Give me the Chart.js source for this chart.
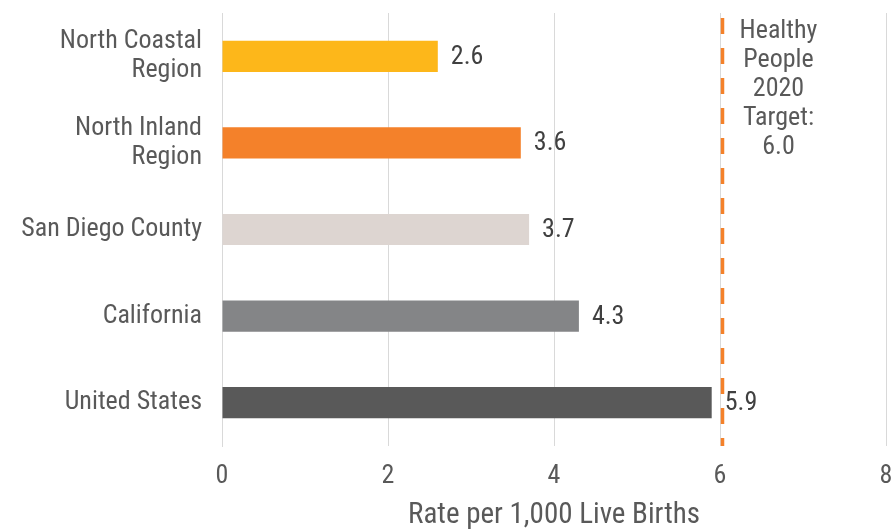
<!DOCTYPE html>
<html>
<head>
<meta charset="utf-8">
<script src="https://cdn.jsdelivr.net/npm/chart.js@4"></script>
<style>
  html, body { margin: 0; padding: 0; background: #fff; }
  #wrap { width: 894px; height: 532px; position: relative; }
</style>
</head>
<body>
<div id="wrap"><canvas id="chart"></canvas></div>
<script>
// data
var regions = [['North Coastal', 'Region'], ['North Inland', 'Region'], 'San Diego County', 'California', 'United States'];
var rates = [2.6, 3.6, 3.7, 4.3, 5.9];
var barColors = ['#FDB71A', '#F4812A', '#DDD5D1', '#848587', '#595959'];
var xTicks = [0, 2, 4, 6, 8];
var target = 6.0;
var targetLines = ['Healthy', 'People', '2020', 'Target:', '6.0'];

var FONT = '"Roboto Condensed", "Liberation Sans", sans-serif';
Chart.defaults.font.family = FONT;
Chart.defaults.color = '#595959';

// value labels next to each bar + the target line and its note
var extras = {
  id: 'extras',
  afterDatasetsDraw: function(chart) {
    var ctx = chart.ctx;
    var meta = chart.getDatasetMeta(0);
    ctx.save();
    ctx.font = '26px ' + FONT;
    ctx.fillStyle = '#404040';
    ctx.textBaseline = 'middle';
    ctx.textAlign = 'left';
    meta.data.forEach(function(bar, i) {
      ctx.fillText(rates[i].toFixed(1), bar.x + 13, bar.y + 1);
    });

    var x = chart.scales.x.getPixelForValue(target) + 2.5;
    var area = chart.chartArea;
    ctx.strokeStyle = '#F4812A';
    ctx.lineWidth = 3.5;
    ctx.setLineDash([16, 14]);
    ctx.beginPath();
    ctx.moveTo(x, area.top + 5);
    ctx.lineTo(x, area.bottom);
    ctx.stroke();

    ctx.fillStyle = '#595959';
    ctx.textAlign = 'center';
    targetLines.forEach(function(t, i) {
      ctx.fillText(t, x + 56, 31 + i * 29);
    });
    ctx.restore();
  }
};

new Chart(document.getElementById('chart'), {
  type: 'bar',
  data: {
    labels: regions,
    datasets: [{
      data: rates,
      backgroundColor: barColors,
      borderWidth: 0,
      barPercentage: 0.36,
      categoryPercentage: 1
    }]
  },
  options: {
    indexAxis: 'y',
    responsive: true,
    maintainAspectRatio: false,
    animation: false,
    layout: { padding: { top: 13, right: 8, left: 0, bottom: 0 } },
    plugins: {
      legend: { display: false },
      tooltip: { enabled: false }
    },
    scales: {
      x: {
        min: 0,
        max: 8,
        afterBuildTicks: function(scale) {
          scale.ticks = xTicks.map(function(v) { return { value: v }; });
        },
        afterFit: function(scale) {
          scale.height = 86;
          scale.paddingLeft = 0;
          scale.paddingRight = 0;
        },
        grid: { color: '#D9D9D9', drawTicks: false, lineWidth: 1 },
        border: { display: false },
        ticks: { padding: 15, font: { size: 26 }, color: '#595959' },
        title: {
          display: true,
          text: 'Rate per 1,000 Live Births',
          font: { size: 29, lineHeight: 1.1 },
          color: '#595959',
          padding: { top: 8, bottom: 0 }
        }
      },
      y: {
        afterFit: function(scale) {
          scale.width = 222;
          scale.paddingTop = 0;
          scale.paddingBottom = 0;
        },
        grid: { display: false, drawTicks: false },
        border: { display: true, color: '#D9D9D9', width: 1 },
        ticks: { padding: 20, font: { size: 26, lineHeight: 1.12 }, color: '#595959' }
      }
    }
  },
  plugins: [extras]
});
</script>
</body>
</html>
